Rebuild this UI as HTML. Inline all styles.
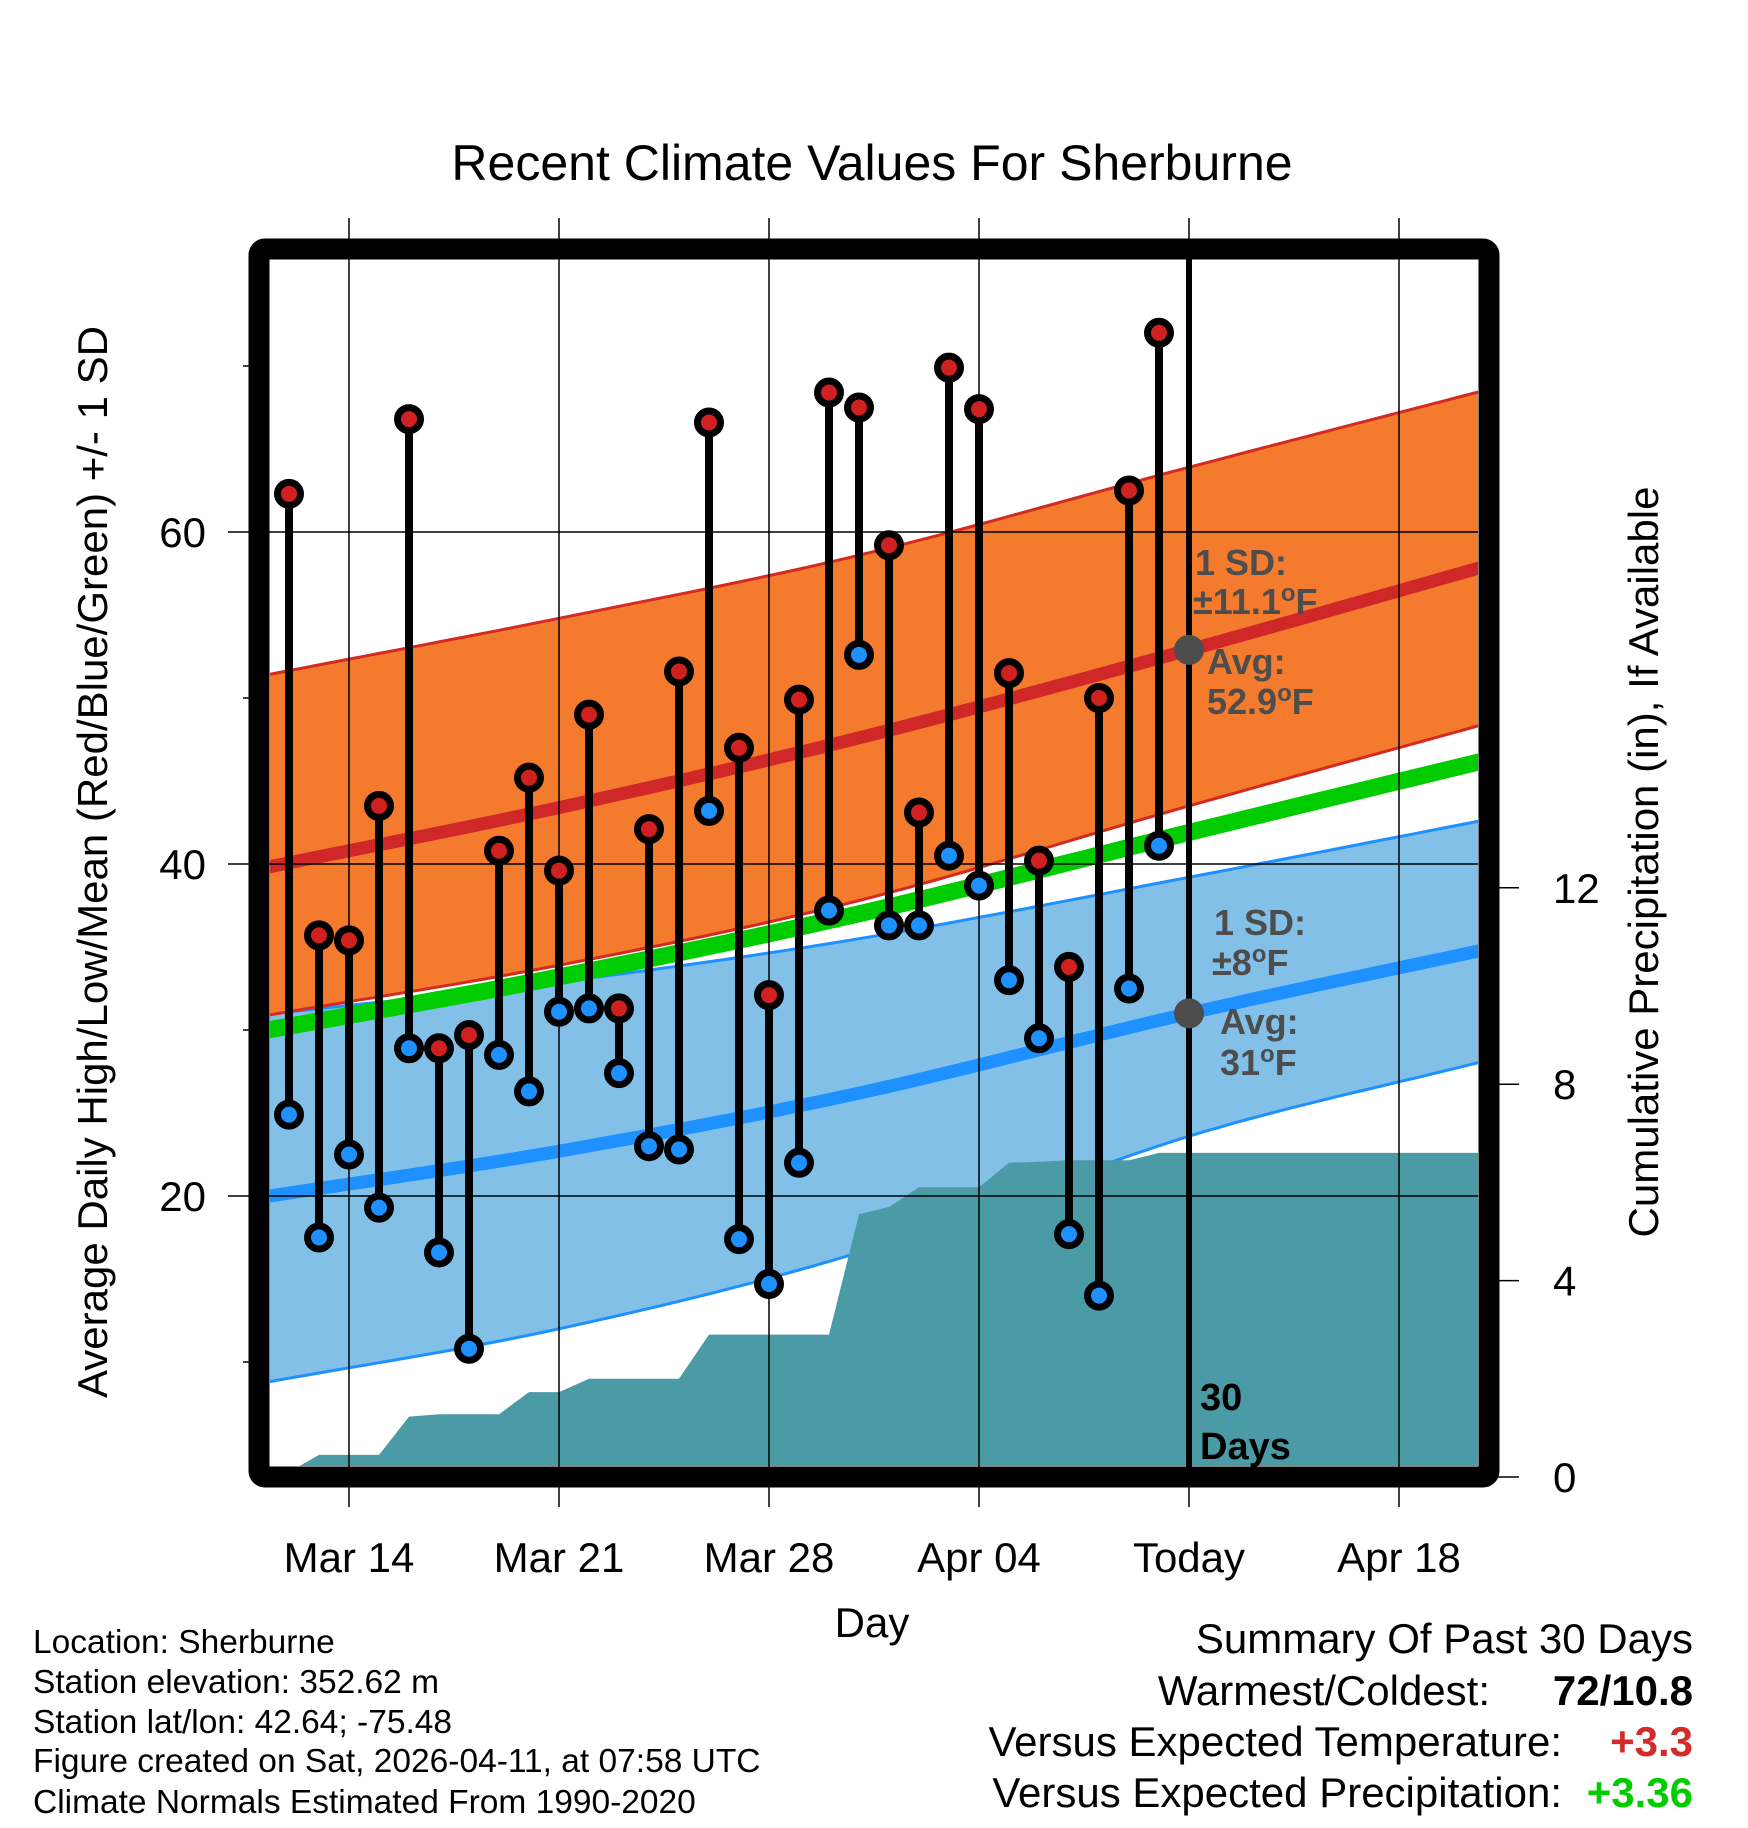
<!DOCTYPE html>
<html><head><meta charset="utf-8"><style>
html,body{margin:0;padding:0;background:#fff;}
svg{display:block;font-family:"Liberation Sans",Arial,sans-serif;}
</style></head><body>
<svg id="chart" width="1748" height="1828" viewBox="0 0 1748 1828" xmlns="http://www.w3.org/2000/svg">
<defs><clipPath id="plotclip"><rect x="270" y="260" width="1208" height="1206"/></clipPath></defs>
<text x="872" y="180" font-size="50" text-anchor="middle">Recent Climate Values For Sherburne</text>
<g id="fills" clip-path="url(#plotclip)"></g>
<g id="grid"></g>
<g id="marks"></g>
<g id="frame-g"></g>
<g id="labels"></g>
</svg>
<script>
// ---- data ----
const dayLabels = ["Mar 12","Mar 13","Mar 14","Mar 15","Mar 16","Mar 17","Mar 18","Mar 19","Mar 20","Mar 21","Mar 22","Mar 23","Mar 24","Mar 25","Mar 26","Mar 27","Mar 28","Mar 29","Mar 30","Mar 31","Apr 01","Apr 02","Apr 03","Apr 04","Apr 05","Apr 06","Apr 07","Apr 08","Apr 09","Apr 10"];
const highs = [62.3,35.7,35.4,43.5,66.8,28.9,29.7,40.8,45.2,39.6,49.0,31.3,42.1,51.6,66.6,47.0,32.1,49.9,68.4,67.5,59.2,43.1,69.9,67.4,51.5,40.2,33.8,50.0,62.5,72.0];
const lows = [24.9,17.5,22.5,19.3,28.9,16.6,10.8,28.5,26.3,31.1,31.3,27.4,23.0,22.8,43.2,17.4,14.7,22.0,37.2,52.6,36.3,36.3,40.5,38.7,33.0,29.5,17.7,14.0,32.5,41.1];
const precip = [0.1,0.45,0.45,0.45,1.23,1.28,1.28,1.28,1.73,1.73,2.0,2.0,2.0,2.0,2.9,2.9,2.9,2.9,2.9,5.35,5.5,5.9,5.9,5.9,6.4,6.42,6.45,6.45,6.45,6.6];
// normals at knot days (days after Mar 11)
const normKnots = [0,10,20,31,41];
const highAvg = [39.7,43.4,47.6,52.9,58.0];
const highUpper = [51.3,54.8,58.6,63.9,68.6];
const highLower = [30.8,33.9,37.8,43.5,48.5];
const meanAvg = [29.9,33.2,37.0,41.9,46.3];
const lowAvg = [19.9,22.7,26.2,31.0,34.9];
const lowUpper = [30.9,32.9,35.5,39.2,42.7];
const lowLower = [8.7,12.0,16.6,23.6,28.2];
const xTickLabels = ["Mar 14","Mar 21","Mar 28","Apr 04","Today","Apr 18"];
const xTickDays = [3,10,17,24,31,38];
const yTicks = [20,40,60];
const yMinor = [10,30,50,70];
const pTicks = [0,4,8,12];
const todayDay = 31;
const firstDay = 1;

// ---- axes ----
const NS="http://www.w3.org/2000/svg";
const xS = d => 349 + (d-3)*30;
const yT = t => 532 + (60-t)*16.6;
const yP = p => 1477 - p*49.1;
function mk(tag, parent, attrs){const e=document.createElementNS(NS,tag);for(const k in attrs)e.setAttribute(k,attrs[k]);parent.appendChild(e);return e;}
// smooth (Catmull-Rom) interpolation between knots
function interp(arr,d){
  const n=normKnots.length;
  let i=0;while(i<n-2&&d>normKnots[i+1])i++;
  const t=(d-normKnots[i])/(normKnots[i+1]-normKnots[i]);
  const p0=arr[Math.max(i-1,0)],p1=arr[i],p2=arr[i+1],p3=arr[Math.min(i+2,n-1)];
  const h=(normKnots[i+1]-normKnots[i]);
  const m1=(i>0)?(p2-p0)/(normKnots[i+1]-normKnots[i-1])*h:(p2-p1);
  const m2=(i+2<n)?(p3-p1)/(normKnots[i+2]-normKnots[i])*h:(p2-p1);
  const t2=t*t,t3=t2*t;
  return (2*t3-3*t2+1)*p1+(t3-2*t2+t)*m1+(-2*t3+3*t2)*p2+(t3-t2)*m2;
}
const fills=document.getElementById('fills'),grid=document.getElementById('grid'),marks=document.getElementById('marks'),frameG=document.getElementById('frame-g'),labels=document.getElementById('labels');
const d0=0,d1=41,steps=[];for(let d=d0;d<=d1;d+=0.5)steps.push(d);
function linePts(arr){return steps.map(d=>xS(d).toFixed(1)+','+yT(interp(arr,d)).toFixed(1)).join(' ');}
function bandPts(a,b){return steps.map(d=>xS(d).toFixed(1)+','+yT(interp(a,d)).toFixed(1)).concat(steps.slice().reverse().map(d=>xS(d).toFixed(1)+','+yT(interp(b,d)).toFixed(1))).join(' ');}

let e;
e=mk('polygon',fills,{points:bandPts(lowUpper,lowLower),fill:'#82c0e8',stroke:'#1e90ff','stroke-width':3});


e=mk('polygon',fills,{points:bandPts(highUpper,highLower),fill:'#f47b2e',stroke:'#d42a20','stroke-width':3});


e=mk('polyline',fills,{points:linePts(meanAvg),fill:'none',stroke:'#00cc00','stroke-width':17});


e=mk('polyline',fills,{points:linePts(lowAvg),fill:'none',stroke:'#1e90ff','stroke-width':13});


e=mk('polyline',fills,{points:linePts(highAvg),fill:'none',stroke:'#d02828','stroke-width':13});


// precip area
let pp=[xS(firstDay-0.6)+','+yP(0)];
precip.forEach((p,i)=>pp.push(xS(firstDay+i)+','+yP(p).toFixed(1)));
pp.push('1478,'+yP(precip[precip.length-1]).toFixed(1));pp.push('1478,'+yP(0));
e=mk('polygon',fills,{points:pp.join(' '),fill:'#4a9ba5'});



// grid
xTickDays.forEach((d,i)=>{
  e=mk('line',grid,{x1:xS(d),x2:xS(d),y1:218,y2:1507,stroke:'#000','stroke-width':1.5});
  
  
  e=mk('text',labels,{x:xS(d),y:1572,'font-size':42,'text-anchor':'middle'});e.textContent=xTickLabels[i];
  
  
});
yTicks.forEach(t=>{
  e=mk('line',grid,{x1:228,x2:1478,y1:yT(t),y2:yT(t),stroke:'#000','stroke-width':1.5});
  
  
  e=mk('text',labels,{x:206,y:yT(t)+15,'font-size':42,'text-anchor':'end'});e.textContent=t;
  
  
});
yMinor.forEach(t=>{
  e=mk('line',grid,{x1:243,x2:259,y1:yT(t),y2:yT(t),stroke:'#000','stroke-width':1.5});
  
  
});
pTicks.forEach(p=>{
  e=mk('line',grid,{x1:1489,x2:1519,y1:yP(p),y2:yP(p),stroke:'#000','stroke-width':1.5});
  
  
  e=mk('text',labels,{x:1553,y:yP(p)+15,'font-size':42,'text-anchor':'start'});e.textContent=p;
  
  
});
// today line
e=mk('line',grid,{x1:xS(todayDay),x2:xS(todayDay),y1:249,y2:1477,stroke:'#000','stroke-width':6});


// normals dots at today
[[highAvg],[lowAvg]].forEach(([a])=>{
  e=mk('circle',grid,{cx:xS(todayDay),cy:yT(interp(a,todayDay)),r:15,fill:'#4d4d4d'});
  
  
});
// bars
highs.forEach((h,i)=>{
  const x=xS(firstDay+i);
  e=mk('line',marks,{x1:x,x2:x,y1:yT(h),y2:yT(lows[i]),stroke:'#000','stroke-width':8});
  
  
  e=mk('circle',marks,{cx:x,cy:yT(h),r:11.5,fill:'#d02020',stroke:'#000','stroke-width':7});
  
  
  e=mk('circle',marks,{cx:x,cy:yT(lows[i]),r:11.5,fill:'#1e90ff',stroke:'#000','stroke-width':7});
  
  
});
e=mk('rect',frameG,{x:259,y:249,width:1230,height:1228,fill:'none',stroke:'#000','stroke-width':21,rx:6});



// text annotations
function txt(x,y,s,size,attrs,name){const t=mk('text',labels,Object.assign({x:x,y:y,'font-size':size},attrs||{}));t.innerHTML=s;return t;}
const g={fill:'#4d4d4d','font-weight':'bold'};
const deg='<tspan dy="-13" font-size="24">o</tspan><tspan dy="13">F</tspan>';
txt(1195,575,'1 SD:',36,g,'high-sd-label');
txt(1193,614,'±11.1'+deg,36,g,'high-sd-value');
txt(1207,674,'Avg:',36,g,'high-avg-label');
txt(1207,714,'52.9'+deg,36,g,'high-avg-value');
txt(1214,935,'1 SD:',36,g,'low-sd-label');
txt(1212,975,'±8'+deg,36,g,'low-sd-value');
txt(1220,1034,'Avg:',36,g,'low-avg-label');
txt(1220,1075,'31'+deg,36,g,'low-avg-value');
txt(1200,1410,'30',38,{'font-weight':'bold'},'days-count-label');
txt(1200,1459,'Days',38,{'font-weight':'bold'},'days-label');
txt(872,1637,'Day',42,{'text-anchor':'middle'},'x-axis-title');
txt(0,0,'Average Daily High/Low/Mean (Red/Blue/Green) +/- 1 SD',42,{'text-anchor':'middle',transform:'translate(107,862) rotate(-90)'},'y-axis-title');
txt(0,0,'Cumulative Precipitation (in), If Available',42,{'text-anchor':'middle',transform:'translate(1658,862) rotate(-90)'},'precip-axis-title');
const info=['Location: Sherburne','Station elevation: 352.62 m','Station lat/lon: 42.64; -75.48','Figure created on Sat, 2026-04-11, at 07:58 UTC','Climate Normals Estimated From 1990-2020'];
const infoY=[1653,1693,1733,1772,1813];
info.forEach((s,i)=>txt(33,infoY[i],s,33.5,{},'station-info-line'));
txt(1693,1653,'Summary Of Past 30 Days',42,{'text-anchor':'end'},'summary-title');
txt(1490,1705,'Warmest/Coldest:',42,{'text-anchor':'end'},'warmest-coldest-label');
txt(1693,1705,'72/10.8',42,{'text-anchor':'end','font-weight':'bold'},'warmest-coldest-value');
txt(1562,1756,'Versus Expected Temperature:',42,{'text-anchor':'end'},'temp-anomaly-label');
txt(1693,1756,'+3.3',42,{'text-anchor':'end','font-weight':'bold',fill:'#d42a2a'},'temp-anomaly-value');
txt(1562,1807,'Versus Expected Precipitation:',42,{'text-anchor':'end'},'precip-anomaly-label');
txt(1693,1807,'+3.36',42,{'text-anchor':'end','font-weight':'bold',fill:'#00cc00'},'precip-anomaly-value');
</script>
</body></html>
